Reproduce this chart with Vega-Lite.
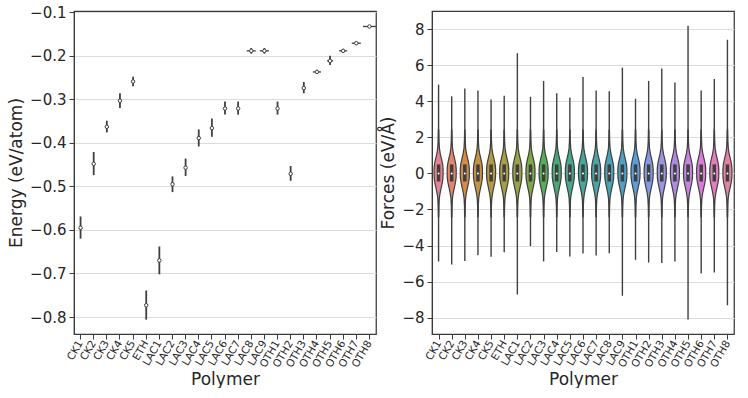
{
  "$schema": "https://vega.github.io/schema/vega-lite/v6.json",
  "padding": {"left": 6, "top": 4, "right": 10, "bottom": 0},
  "spacing": 2,
  "config": {
    "font": "DejaVu Sans",
    "view": {"stroke": "#3a3a3a", "strokeWidth": 1.25},
    "axis": {
      "labelFontSize": 15, "titleFontSize": 17, "labelColor": "#262626", "titleColor": "#262626",
      "titleFontWeight": "normal", "domainColor": "#3a3a3a", "tickColor": "#3a3a3a",
      "gridColor": "#dcdcdc", "gridWidth": 1, "tickSize": 5, "labelPadding": 3, "titlePadding": 4,
      "labelOverlap": false
    }
  },
  "datasets": {
    "energy": [
      {"polymer": "CK1", "median": -0.595, "lo": -0.620, "hi": -0.569, "peak": 30},
      {"polymer": "CK2", "median": -0.448, "lo": -0.474, "hi": -0.421, "peak": 30},
      {"polymer": "CK3", "median": -0.363, "lo": -0.376, "hi": -0.349, "peak": 45},
      {"polymer": "CK4", "median": -0.303, "lo": -0.320, "hi": -0.286, "peak": 45},
      {"polymer": "CK5", "median": -0.259, "lo": -0.270, "hi": -0.248, "peak": 60},
      {"polymer": "ETH", "median": -0.773, "lo": -0.806, "hi": -0.739, "peak": 30},
      {"polymer": "LAC1", "median": -0.670, "lo": -0.702, "hi": -0.638, "peak": 30},
      {"polymer": "LAC2", "median": -0.495, "lo": -0.513, "hi": -0.477, "peak": 45},
      {"polymer": "LAC3", "median": -0.457, "lo": -0.476, "hi": -0.436, "peak": 40},
      {"polymer": "LAC4", "median": -0.389, "lo": -0.408, "hi": -0.369, "peak": 40},
      {"polymer": "LAC5", "median": -0.366, "lo": -0.386, "hi": -0.344, "peak": 40},
      {"polymer": "LAC6", "median": -0.321, "lo": -0.335, "hi": -0.305, "peak": 45},
      {"polymer": "LAC7", "median": -0.321, "lo": -0.335, "hi": -0.305, "peak": 45},
      {"polymer": "LAC8", "median": -0.1885, "lo": -0.195, "hi": -0.182, "peak": 140},
      {"polymer": "LAC9", "median": -0.1885, "lo": -0.195, "hi": -0.182, "peak": 140},
      {"polymer": "OTH1", "median": -0.321, "lo": -0.335, "hi": -0.305, "peak": 45},
      {"polymer": "OTH2", "median": -0.471, "lo": -0.487, "hi": -0.453, "peak": 45},
      {"polymer": "OTH3", "median": -0.274, "lo": -0.286, "hi": -0.260, "peak": 60},
      {"polymer": "OTH4", "median": -0.237, "lo": -0.242, "hi": -0.232, "peak": 125},
      {"polymer": "OTH5", "median": -0.2115, "lo": -0.221, "hi": -0.200, "peak": 95},
      {"polymer": "OTH6", "median": -0.1885, "lo": -0.193, "hi": -0.184, "peak": 125},
      {"polymer": "OTH7", "median": -0.171, "lo": -0.174, "hi": -0.168, "peak": 140},
      {"polymer": "OTH8", "median": -0.1326, "lo": -0.134, "hi": -0.131, "peak": 200}
    ],
    "forces": [
      {"polymer": "CK1", "min": -4.88, "max": 4.92, "q1": -0.45, "q3": 0.5, "median": 0},
      {"polymer": "CK2", "min": -5.05, "max": 4.27, "q1": -0.45, "q3": 0.5, "median": 0},
      {"polymer": "CK3", "min": -4.85, "max": 4.71, "q1": -0.45, "q3": 0.5, "median": 0},
      {"polymer": "CK4", "min": -4.53, "max": 4.59, "q1": -0.45, "q3": 0.5, "median": 0},
      {"polymer": "CK5", "min": -4.62, "max": 4.09, "q1": -0.45, "q3": 0.5, "median": 0},
      {"polymer": "ETH", "min": -4.37, "max": 4.31, "q1": -0.45, "q3": 0.5, "median": 0},
      {"polymer": "LAC1", "min": -6.71, "max": 6.66, "q1": -0.45, "q3": 0.5, "median": 0},
      {"polymer": "LAC2", "min": -4.03, "max": 4.25, "q1": -0.45, "q3": 0.5, "median": 0},
      {"polymer": "LAC3", "min": -4.88, "max": 5.12, "q1": -0.45, "q3": 0.5, "median": 0},
      {"polymer": "LAC4", "min": -4.35, "max": 4.44, "q1": -0.45, "q3": 0.5, "median": 0},
      {"polymer": "LAC5", "min": -4.61, "max": 4.20, "q1": -0.45, "q3": 0.5, "median": 0},
      {"polymer": "LAC6", "min": -4.44, "max": 5.34, "q1": -0.45, "q3": 0.5, "median": 0},
      {"polymer": "LAC7", "min": -4.55, "max": 4.59, "q1": -0.45, "q3": 0.5, "median": 0},
      {"polymer": "LAC8", "min": -4.42, "max": 4.55, "q1": -0.45, "q3": 0.5, "median": 0},
      {"polymer": "LAC9", "min": -6.78, "max": 5.86, "q1": -0.45, "q3": 0.5, "median": 0},
      {"polymer": "OTH1", "min": -4.79, "max": 4.14, "q1": -0.45, "q3": 0.5, "median": 0},
      {"polymer": "OTH2", "min": -4.94, "max": 5.12, "q1": -0.45, "q3": 0.5, "median": 0},
      {"polymer": "OTH3", "min": -4.97, "max": 5.82, "q1": -0.45, "q3": 0.5, "median": 0},
      {"polymer": "OTH4", "min": -4.88, "max": 5.04, "q1": -0.45, "q3": 0.5, "median": 0},
      {"polymer": "OTH5", "min": -8.10, "max": 8.18, "q1": -0.45, "q3": 0.5, "median": 0},
      {"polymer": "OTH6", "min": -5.55, "max": 4.59, "q1": -0.45, "q3": 0.5, "median": 0},
      {"polymer": "OTH7", "min": -5.49, "max": 5.23, "q1": -0.45, "q3": 0.5, "median": 0},
      {"polymer": "OTH8", "min": -7.31, "max": 7.40, "q1": -0.45, "q3": 0.5, "median": 0}
    ],
    "profile": [
      {"polymer": "CK1", "f": [-2.4,-1.8,-1.4,-1.1,-0.8,-0.5,-0.25,0,0.25,0.5,0.8,1.1,1.4,1.8,2.4], "d": [0.02,0.035,0.07,0.14,0.25,0.36,0.42,0.43,0.43,0.39,0.28,0.16,0.08,0.04,0.02]},
      {"polymer": "CK2", "f": [-2.4,-1.8,-1.4,-1.1,-0.8,-0.5,-0.25,0,0.25,0.5,0.8,1.1,1.4,1.8,2.4], "d": [0.02,0.035,0.07,0.14,0.25,0.36,0.42,0.43,0.43,0.39,0.28,0.16,0.08,0.04,0.02]},
      {"polymer": "CK3", "f": [-2.4,-1.8,-1.4,-1.1,-0.8,-0.5,-0.25,0,0.25,0.5,0.8,1.1,1.4,1.8,2.4], "d": [0.02,0.035,0.07,0.14,0.25,0.36,0.42,0.43,0.43,0.39,0.28,0.16,0.08,0.04,0.02]},
      {"polymer": "CK4", "f": [-2.4,-1.8,-1.4,-1.1,-0.8,-0.5,-0.25,0,0.25,0.5,0.8,1.1,1.4,1.8,2.4], "d": [0.02,0.035,0.07,0.14,0.25,0.36,0.42,0.43,0.43,0.39,0.28,0.16,0.08,0.04,0.02]},
      {"polymer": "CK5", "f": [-2.4,-1.8,-1.4,-1.1,-0.8,-0.5,-0.25,0,0.25,0.5,0.8,1.1,1.4,1.8,2.4], "d": [0.02,0.035,0.07,0.14,0.25,0.36,0.42,0.43,0.43,0.39,0.28,0.16,0.08,0.04,0.02]},
      {"polymer": "ETH", "f": [-2.4,-1.8,-1.4,-1.1,-0.8,-0.5,-0.25,0,0.25,0.5,0.8,1.1,1.4,1.8,2.4], "d": [0.02,0.035,0.07,0.14,0.25,0.36,0.42,0.43,0.43,0.39,0.28,0.16,0.08,0.04,0.02]},
      {"polymer": "LAC1", "f": [-2.4,-1.8,-1.4,-1.1,-0.8,-0.5,-0.25,0,0.25,0.5,0.8,1.1,1.4,1.8,2.4], "d": [0.02,0.035,0.07,0.14,0.25,0.36,0.42,0.43,0.43,0.39,0.28,0.16,0.08,0.04,0.02]},
      {"polymer": "LAC2", "f": [-2.4,-1.8,-1.4,-1.1,-0.8,-0.5,-0.25,0,0.25,0.5,0.8,1.1,1.4,1.8,2.4], "d": [0.02,0.035,0.07,0.14,0.25,0.36,0.42,0.43,0.43,0.39,0.28,0.16,0.08,0.04,0.02]},
      {"polymer": "LAC3", "f": [-2.4,-1.8,-1.4,-1.1,-0.8,-0.5,-0.25,0,0.25,0.5,0.8,1.1,1.4,1.8,2.4], "d": [0.02,0.035,0.07,0.14,0.25,0.36,0.42,0.43,0.43,0.39,0.28,0.16,0.08,0.04,0.02]},
      {"polymer": "LAC4", "f": [-2.4,-1.8,-1.4,-1.1,-0.8,-0.5,-0.25,0,0.25,0.5,0.8,1.1,1.4,1.8,2.4], "d": [0.02,0.035,0.07,0.14,0.25,0.36,0.42,0.43,0.43,0.39,0.28,0.16,0.08,0.04,0.02]},
      {"polymer": "LAC5", "f": [-2.4,-1.8,-1.4,-1.1,-0.8,-0.5,-0.25,0,0.25,0.5,0.8,1.1,1.4,1.8,2.4], "d": [0.02,0.035,0.07,0.14,0.25,0.36,0.42,0.43,0.43,0.39,0.28,0.16,0.08,0.04,0.02]},
      {"polymer": "LAC6", "f": [-2.4,-1.8,-1.4,-1.1,-0.8,-0.5,-0.25,0,0.25,0.5,0.8,1.1,1.4,1.8,2.4], "d": [0.02,0.035,0.07,0.14,0.25,0.36,0.42,0.43,0.43,0.39,0.28,0.16,0.08,0.04,0.02]},
      {"polymer": "LAC7", "f": [-2.4,-1.8,-1.4,-1.1,-0.8,-0.5,-0.25,0,0.25,0.5,0.8,1.1,1.4,1.8,2.4], "d": [0.02,0.035,0.07,0.14,0.25,0.36,0.42,0.43,0.43,0.39,0.28,0.16,0.08,0.04,0.02]},
      {"polymer": "LAC8", "f": [-2.4,-1.8,-1.4,-1.1,-0.8,-0.5,-0.25,0,0.25,0.5,0.8,1.1,1.4,1.8,2.4], "d": [0.02,0.035,0.07,0.14,0.25,0.36,0.42,0.43,0.43,0.39,0.28,0.16,0.08,0.04,0.02]},
      {"polymer": "LAC9", "f": [-2.4,-1.8,-1.4,-1.1,-0.8,-0.5,-0.25,0,0.25,0.5,0.8,1.1,1.4,1.8,2.4], "d": [0.02,0.035,0.07,0.14,0.25,0.36,0.42,0.43,0.43,0.39,0.28,0.16,0.08,0.04,0.02]},
      {"polymer": "OTH1", "f": [-2.4,-1.8,-1.4,-1.1,-0.8,-0.5,-0.25,0,0.25,0.5,0.8,1.1,1.4,1.8,2.4], "d": [0.02,0.035,0.07,0.14,0.25,0.36,0.42,0.43,0.43,0.39,0.28,0.16,0.08,0.04,0.02]},
      {"polymer": "OTH2", "f": [-2.4,-1.8,-1.4,-1.1,-0.8,-0.5,-0.25,0,0.25,0.5,0.8,1.1,1.4,1.8,2.4], "d": [0.02,0.035,0.07,0.14,0.25,0.36,0.42,0.43,0.43,0.39,0.28,0.16,0.08,0.04,0.02]},
      {"polymer": "OTH3", "f": [-2.4,-1.8,-1.4,-1.1,-0.8,-0.5,-0.25,0,0.25,0.5,0.8,1.1,1.4,1.8,2.4], "d": [0.02,0.035,0.07,0.14,0.25,0.36,0.42,0.43,0.43,0.39,0.28,0.16,0.08,0.04,0.02]},
      {"polymer": "OTH4", "f": [-2.4,-1.8,-1.4,-1.1,-0.8,-0.5,-0.25,0,0.25,0.5,0.8,1.1,1.4,1.8,2.4], "d": [0.02,0.035,0.07,0.14,0.25,0.36,0.42,0.43,0.43,0.39,0.28,0.16,0.08,0.04,0.02]},
      {"polymer": "OTH5", "f": [-2.4,-1.8,-1.4,-1.1,-0.8,-0.5,-0.25,0,0.25,0.5,0.8,1.1,1.4,1.8,2.4], "d": [0.02,0.035,0.07,0.14,0.25,0.36,0.42,0.43,0.43,0.39,0.28,0.16,0.08,0.04,0.02]},
      {"polymer": "OTH6", "f": [-2.4,-1.8,-1.4,-1.1,-0.8,-0.5,-0.25,0,0.25,0.5,0.8,1.1,1.4,1.8,2.4], "d": [0.02,0.035,0.07,0.14,0.25,0.36,0.42,0.43,0.43,0.39,0.28,0.16,0.08,0.04,0.02]},
      {"polymer": "OTH7", "f": [-2.4,-1.8,-1.4,-1.1,-0.8,-0.5,-0.25,0,0.25,0.5,0.8,1.1,1.4,1.8,2.4], "d": [0.02,0.035,0.07,0.14,0.25,0.36,0.42,0.43,0.43,0.39,0.28,0.16,0.08,0.04,0.02]},
      {"polymer": "OTH8", "f": [-2.4,-1.8,-1.4,-1.1,-0.8,-0.5,-0.25,0,0.25,0.5,0.8,1.1,1.4,1.8,2.4], "d": [0.02,0.035,0.07,0.14,0.25,0.36,0.42,0.43,0.43,0.39,0.28,0.16,0.08,0.04,0.02]}
    ]
  },
  "hconcat": [
    {
      "width": 302, "height": 323,
      "data": {"name": "energy"},
      "encoding": {
        "x": {"field": "polymer", "type": "nominal", "sort": null,
          "scale": {"paddingInner": 0, "paddingOuter": 0},
          "axis": {"title": "Polymer", "labelAngle": -60, "labelAlign": "right", "labelBaseline": "middle", "labelFontSize": 10.5, "labelPadding": 2, "domain": false, "grid": false, "titlePadding": 2}}
      },
      "layer": [
        {
          "mark": {"type": "rule", "color": "#3f3f3f", "strokeWidth": 1.8},
          "encoding": {
            "y": {"field": "lo", "type": "quantitative", "scale": {"domain": [-0.839, -0.097], "nice": false, "zero": false},
              "axis": {"title": "Energy (eV/atom)", "values": [-0.8, -0.7, -0.6, -0.5, -0.4, -0.3, -0.2, -0.1], "labelExpr": "replace(format(datum.value, '.1f'), '-', '−')", "grid": true}},
            "y2": {"field": "hi"}
          }
        },
        {
          "mark": {"type": "tick", "color": "#3f3f3f", "thickness": 1.3, "opacity": 1},
          "encoding": {
            "y": {"field": "median", "type": "quantitative", "title": "Energy (eV/atom)"},
            "size": {"field": "peak", "type": "quantitative", "scale": {"domain": [0, 200], "range": [0, 13]}, "legend": null}
          }
        },
        {
          "mark": {"type": "point", "shape": "circle", "filled": true, "fill": "white", "stroke": "#3f3f3f", "strokeWidth": 1, "size": 12, "opacity": 1},
          "encoding": {
            "y": {"field": "median", "type": "quantitative", "title": "Energy (eV/atom)"}
          }
        }
      ]
    },
    {
      "width": 302, "height": 323,
      "transform": [{"calculate": "indexof(['CK1','CK2','CK3','CK4','CK5','ETH','LAC1','LAC2','LAC3','LAC4','LAC5','LAC6','LAC7','LAC8','LAC9','OTH1','OTH2','OTH3','OTH4','OTH5','OTH6','OTH7','OTH8'], datum.polymer)", "as": "idx"}],
      "data": {"name": "forces"},
      "encoding": {
        "x": {"field": "idx", "type": "quantitative", "scale": {"domain": [-0.5, 22.5], "nice": false, "zero": false},
          "axis": {"title": "Polymer", "values": [0,1,2,3,4,5,6,7,8,9,10,11,12,13,14,15,16,17,18,19,20,21,22],
            "labelExpr": "['CK1','CK2','CK3','CK4','CK5','ETH','LAC1','LAC2','LAC3','LAC4','LAC5','LAC6','LAC7','LAC8','LAC9','OTH1','OTH2','OTH3','OTH4','OTH5','OTH6','OTH7','OTH8'][datum.value]",
            "labelAngle": -60, "labelAlign": "right", "labelBaseline": "middle", "labelFontSize": 10.5, "labelPadding": 2, "domain": false, "grid": false, "titlePadding": 2, "labelFlush": false, "labelOverlap": false}},
        "y": {"field": "min", "type": "quantitative", "scale": {"domain": [-8.9, 9.0], "nice": false, "zero": false},
          "axis": {"title": "Forces (eV/Å)", "values": [-8, -6, -4, -2, 0, 2, 4, 6, 8], "labelExpr": "replace(format(datum.value, 'd'), '-', '−')", "grid": true}}
      },
      "layer": [
        {
          "mark": {"type": "rule", "color": "#3f3f3f", "strokeWidth": 1.4},
          "encoding": {"y2": {"field": "max"}}
        },
        {
          "data": {"name": "profile"},
          "transform": [
            {"flatten": ["f", "d"]},
            {"calculate": "indexof(['CK1','CK2','CK3','CK4','CK5','ETH','LAC1','LAC2','LAC3','LAC4','LAC5','LAC6','LAC7','LAC8','LAC9','OTH1','OTH2','OTH3','OTH4','OTH5','OTH6','OTH7','OTH8'], datum.polymer)", "as": "idx"},
            {"calculate": "datum.idx - 0.8 * datum.d", "as": "min"},
            {"calculate": "datum.idx + 0.8 * datum.d", "as": "xr"},
            {"calculate": "datum.f", "as": "yv"}
          ],
          "mark": {"type": "area", "orient": "horizontal", "stroke": "#3f3f3f", "strokeWidth": 1.2, "opacity": 1, "fillOpacity": 1},
          "encoding": {
            "x": {"field": "min", "type": "quantitative"},
            "x2": {"field": "xr"},
            "y": {"field": "yv", "type": "quantitative"},
            "color": {"field": "polymer", "type": "nominal", "legend": null,
              "scale": {"domain": ["CK1","CK2","CK3","CK4","CK5","ETH","LAC1","LAC2","LAC3","LAC4","LAC5","LAC6","LAC7","LAC8","LAC9","OTH1","OTH2","OTH3","OTH4","OTH5","OTH6","OTH7","OTH8"],
                "range": ["#e68294","#e0866c","#d48c48","#c49444","#b49a44","#a69f44","#99a344","#80a844","#58ad55","#47aa7a","#47a88f","#48a79c","#49a5a8","#4aa3b4","#4ca0c4","#5d9dda","#8399e3","#9c93e2","#b08be2","#c483df","#dc7bd8","#e27dbf","#e482a6"]}}
          }
        },
        {
          "mark": {"type": "rule", "color": "#3f3f3f", "strokeWidth": 3.5},
          "encoding": {
            "y": {"field": "q1", "type": "quantitative"},
            "y2": {"field": "q3"}
          }
        },
        {
          "mark": {"type": "point", "shape": "circle", "filled": true, "color": "white", "size": 4, "opacity": 1},
          "encoding": {
            "y": {"field": "median", "type": "quantitative"}
          }
        }
      ]
    }
  ]
}
